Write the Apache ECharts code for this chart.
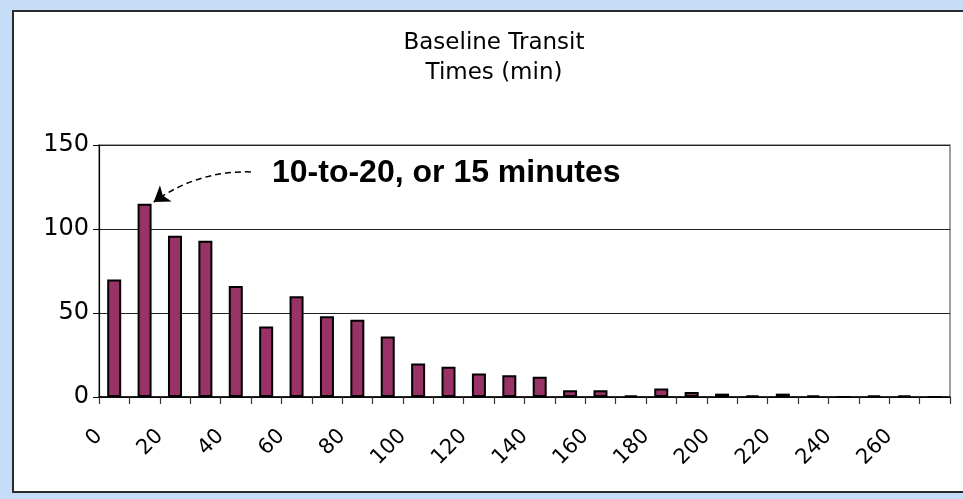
<!DOCTYPE html>
<html>
<head>
<meta charset="utf-8">
<script src="https://cdn.jsdelivr.net/npm/echarts@6/dist/echarts.min.js"></script>
<style>
  html, body { margin: 0; padding: 0; background: #c6ddf7; }
  #initTable { width: 963px; height: 499px; }
</style>
</head>
<body>
<div id="initTable"></div>
<script>
// data ------------------
var binCenters = [5, 15, 25, 35, 45, 55, 65, 75, 85, 95, 105, 115, 125, 135,
                  145, 155, 165, 175, 185, 195, 205, 215, 225, 235, 245, 255, 265, 275];
var counts = [70, 115, 96, 93, 66, 42, 60, 48, 46, 36, 20, 18, 14, 13,
              12, 4, 4, 1, 5, 3, 2, 1, 2, 1, 0, 1, 1, 0];
var tickLabels = ['0', '20', '40', '60', '80', '100', '120', '140', '160', '180', '200', '220', '240', '260'];
var yTicks = [0, 50, 100, 150];
// arrow for the note: from the text back to the 10-20 bar (data coords)
var arrowFrom = [50, 134];
var arrowTo = [18, 116];

var barData = binCenters.map(function (c, i) { return [c, counts[i]]; });

var myChart = echarts.init(document.getElementById('initTable'));

option = {
    backgroundColor: '#c6ddf7',
    animation: false,
    textStyle: { fontFamily: 'DejaVu Sans' },
    title: {
        text: 'Baseline Transit\nTimes (min)',
        left: 489,
        top: 23,
        textAlign: 'center',
        textStyle: {
            fontFamily: 'DejaVu Sans',
            fontWeight: 'normal',
            fontSize: 23,
            lineHeight: 30,
            color: '#000'
        }
    },
    graphic: [
        {   // white chart frame
            type: 'rect',
            z: -10,
            shape: { x: 13, y: 11, width: 960, height: 481 },
            style: { fill: '#fff', stroke: '#2b2b2b', lineWidth: 2 }
        },
        {   // annotation
            type: 'text',
            x: 272,
            y: 173,
            style: {
                text: '10-to-20, or 15 minutes',
                fontFamily: 'Liberation Sans',
                fontWeight: 'bold',
                fontSize: 32,
                fill: '#000',
                verticalAlign: 'middle'
            }
        }
    ],
    grid: {
        left: 99,
        right: 13,
        top: 145,
        bottom: 102,
        show: true,
        backgroundColor: 'transparent',
        borderColor: '#808080',
        borderWidth: 1.5
    },
    xAxis: {
        type: 'value',
        min: 0,
        max: 280,
        interval: 10,
        axisLine: { lineStyle: { color: '#000', width: 1.5 } },
        axisTick: { length: 7, lineStyle: { color: '#333', width: 1.2 } },
        splitLine: { show: false },
        axisLabel: {
            rotate: 45,
            margin: 36,
            fontFamily: 'DejaVu Sans',
            fontSize: 21,
            color: '#000',
            formatter: function (v) {
                return tickLabels.indexOf(String(v)) >= 0 ? String(v) : '';
            }
        }
    },
    yAxis: {
        type: 'value',
        min: yTicks[0],
        max: yTicks[yTicks.length - 1],
        interval: 50,
        axisLine: { show: true, lineStyle: { color: '#000', width: 1.2 } },
        axisTick: { show: true, length: 6, lineStyle: { color: '#000' } },
        splitLine: { lineStyle: { color: '#222', width: 1.2 } },
        axisLabel: {
            margin: 10,
            fontFamily: 'DejaVu Sans',
            fontSize: 24,
            color: '#000'
        }
    },
    series: [
        {
            name: 'Transit times',
            type: 'bar',
            barWidth: 14,
            data: barData,
            itemStyle: {
                color: '#993366',
                borderColor: '#000',
                borderWidth: 2
            }
        },
        {
            name: 'note arrow',
            type: 'lines',
            coordinateSystem: 'cartesian2d',
            silent: true,
            symbol: ['none', 'arrow'],
            symbolSize: 15,
            lineStyle: { color: '#000', type: [6, 4], width: 1.5, curveness: -0.17, opacity: 1 },
            data: [{ coords: [arrowFrom, arrowTo] }]
        }
    ]
};
myChart.setOption(option);
</script>
</body>
</html>
